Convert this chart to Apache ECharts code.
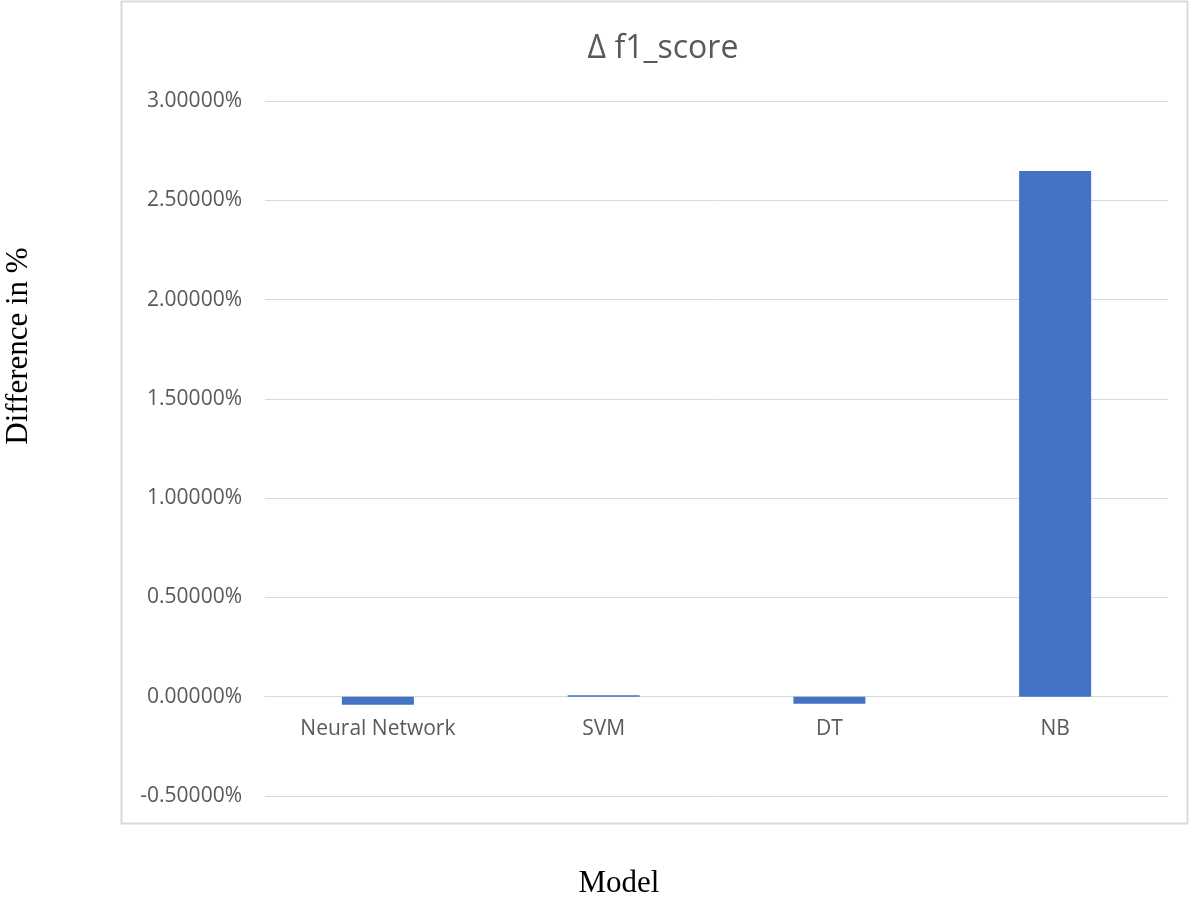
<!DOCTYPE html>
<html>
<head>
<meta charset="utf-8">
<style>
  html, body { margin: 0; padding: 0; background: #ffffff; }
  #chart { width: 1199px; height: 898px; }
</style>
<script src="https://cdn.jsdelivr.net/npm/echarts@6/dist/echarts.min.js"></script>
</head>
<body>
<div id="chart"></div>
<script>
// Change in F1 score per model, in percent
const models = ['Neural Network', 'SVM', 'DT', 'NB'];
const deltaF1 = [-0.040, 0.008, -0.035, 2.647];

const yMin = -0.5;
const yMax = 3.0;
const yStep = 0.5;

const gridTop = 101;
const gridBottom = 102;
const chartHeight = 898;
// pixel distance from the bottom of the plot up to the zero line
const plotHeight = chartHeight - gridTop - gridBottom;
const zeroLift = plotHeight * (0 - yMin) / (yMax - yMin);

const chart = echarts.init(document.getElementById('chart'));

chart.setOption({
  animation: false,
  backgroundColor: '#ffffff',
  title: {
    text: 'Δ f1_score',
    left: 658,
    top: 44,
    textAlign: 'center',
    textVerticalAlign: 'middle',
    textStyle: {
      fontFamily: 'Open Sans',
      fontSize: 32,
      fontWeight: 'normal',
      color: '#595959'
    }
  },
  grid: {
    left: 265,
    right: 31,
    top: gridTop,
    bottom: gridBottom
  },
  xAxis: {
    type: 'category',
    data: models,
    position: 'bottom',
    offset: -zeroLift,
    axisLine: { onZero: false, lineStyle: { color: '#d9d9d9', width: 1 } },
    axisTick: { show: false },
    axisLabel: {
      margin: 22,
      fontFamily: 'Open Sans',
      fontSize: 21,
      color: '#595959'
    }
  },
  yAxis: {
    type: 'value',
    min: yMin,
    max: yMax,
    interval: yStep,
    axisLine: { show: false },
    axisTick: { show: false },
    splitLine: { lineStyle: { color: '#d9d9d9', width: 1 } },
    axisLabel: {
      margin: 23,
      fontFamily: 'Open Sans',
      fontSize: 21,
      color: '#595959',
      formatter: v => v.toFixed(5) + '%'
    }
  },
  series: [{
    type: 'bar',
    data: deltaF1,
    barWidth: 72,
    itemStyle: { color: '#4472c4' }
  }],
  graphic: [
    {
      type: 'rect',
      shape: { x: 121.5, y: 1.5, width: 1066, height: 822 },
      style: { fill: 'none', stroke: '#d9d9d9', lineWidth: 2 },
      silent: true,
      z: -1
    },
    {
      type: 'text',
      x: 19,
      y: 346,
      rotation: Math.PI / 2,
      style: {
        text: 'Difference in %',
        font: '31px "Liberation Serif", "Times New Roman", serif',
        fill: '#000000',
        textAlign: 'center',
        textVerticalAlign: 'middle'
      }
    },
    {
      type: 'text',
      x: 619,
      y: 884,
      style: {
        text: 'Model',
        font: '31px "Liberation Serif", "Times New Roman", serif',
        fill: '#000000',
        textAlign: 'center',
        textVerticalAlign: 'middle'
      }
    }
  ]
});
</script>
</body>
</html>
